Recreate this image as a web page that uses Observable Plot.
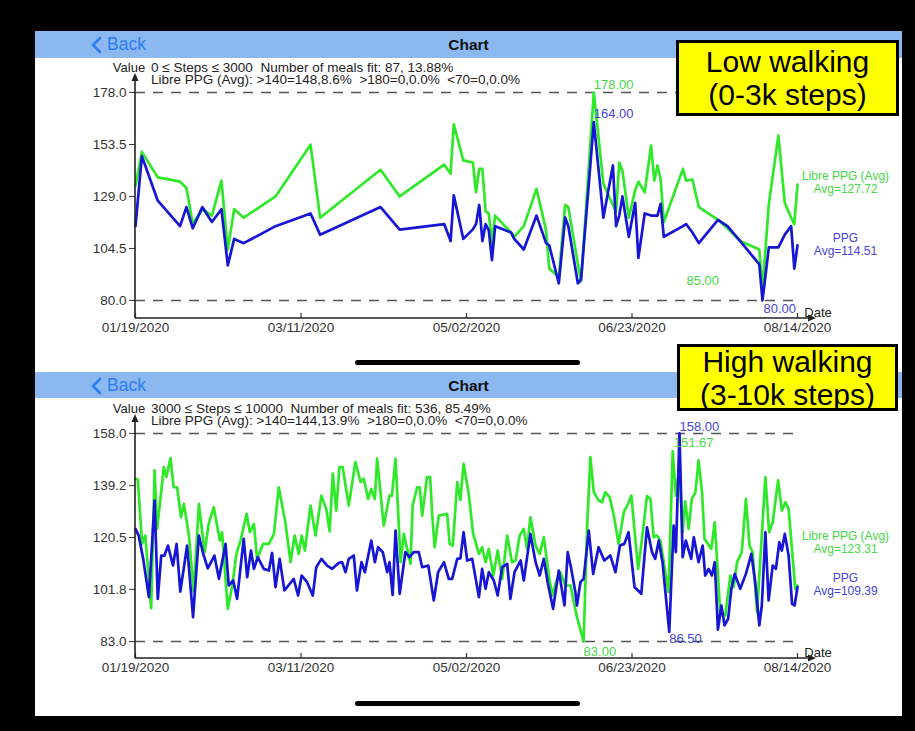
<!DOCTYPE html>
<html>
<head>
<meta charset="utf-8">
<script src="https://cdn.jsdelivr.net/npm/d3@7"></script>
<script src="https://cdn.jsdelivr.net/npm/@observablehq/plot@0.6"></script>
<style>
  body { margin:0; background:#000; width:915px; height:731px; overflow:hidden; font-family:"Liberation Sans", Arial, sans-serif; }
  #page { position:relative; width:915px; height:731px; background:#000; }
  .panel { position:absolute; left:35px; top:31px; width:867px; height:685px; background:#fff; }
  .hdr { position:absolute; left:35px; width:867px; background:#8ab8ef; }
  .back { position:absolute; left:55px; top:3px; color:#2d7cf6; font-size:17.5px; display:flex; align-items:center; gap:5px; }
  .ttl { position:absolute; left:0; width:100%; text-align:center; font-weight:bold; font-size:15.5px; top:5px; color:#111; }
  .info { position:absolute; left:151px; font-size:13.5px; line-height:12px; color:#222; white-space:pre; }
  .chart { position:absolute; left:35px; }
  .home { position:absolute; left:355px; width:225px; height:5px; border-radius:3px; background:#000; }
  .note { position:absolute; box-sizing:border-box; background:#ffff00; border:3px solid #000; display:flex; flex-direction:column; align-items:center; justify-content:center; font-size:30px; line-height:33px; color:#000; }
</style>
</head>
<body>
<div id="page">
  <div class="panel"></div>
  <div class="hdr" style="top:31px;height:27px;">
    <div class="back"><svg width="12" height="18"><polyline points="10,2 3,9 10,16" fill="none" stroke="#2d7cf6" stroke-width="2.6" stroke-linecap="round" stroke-linejoin="round"/></svg>Back</div>
    <div class="ttl">Chart</div>
  </div>
  <div class="hdr" style="top:372px;height:26px;">
    <div class="back"><svg width="12" height="18"><polyline points="10,2 3,9 10,16" fill="none" stroke="#2d7cf6" stroke-width="2.6" stroke-linecap="round" stroke-linejoin="round"/></svg>Back</div>
    <div class="ttl">Chart</div>
  </div>
  <div class="info" id="info1" style="top:62px;"></div>
  <div class="info" id="info2" style="top:403px;"></div>
  <div class="chart" id="c1" style="top:58px;"></div>
  <div class="chart" id="c2" style="top:398px;"></div>
  <div class="home" style="top:360px;"></div>
  <div class="home" style="top:701px;"></div>
  <div class="note" style="left:676px;top:40px;width:223px;height:76px;"><div>Low walking</div><div>(0-3k steps)</div></div>
  <div class="note" style="left:677px;top:344px;width:221px;height:67px;"><div>High walking</div><div>(3-10k steps)</div></div>
</div>
<script>
// ---------- DATA ----------
const startDate = "2020-01-19";           // day 0 of the day offsets below
const xTickDates = ["2020-01-19","2020-03-11","2020-05-02","2020-06-23","2020-08-14"];
const seriesNames = ["Libre PPG (Avg)", "PPG"];

// Low walking (0-3k steps)
const lowInfo = ["0 \u2264 Steps \u2264 3000  Number of meals fit: 87, 13.88%",
                 "Libre PPG (Avg): >140=148,8.6%  >180=0,0.0%  <70=0,0.0%"];
const lowYTicks = [80, 104.5, 129, 153.5, 178];
const lowAvg = [127.72, 114.51];
const lowDays = [0,2,7,14,16,18,21,24,27,29,31,34,44,55,58,77,83,97,99,100,103,106,107,108,109,110,111,112,113,118,119,122,126,129,130,133,135,136,139,140,144,147,150,151,152,153,155,157,158,160,162,163,164,165,166,172,173,175,177,183,186,190,196,197,199,202,204,206,207,208];
const lowLibre = [134,150,138,136,133,116,123,120,136.5,104,123,119,129,153.4,119,141.6,129,144,139.7,163,146,145,131,142,142,122,121,107,120,112,110,115,132.6,113,95,91,125,124,97,89,178,135,125,122,145,141,119,132,136,131,153,136.5,143.6,137,117,142,136.5,137,124,118,114,108,104,85,125.5,157.7,126,119,116,134.6];
const lowPPG = [115,148,127,115,124,114,124,117,123,96.5,109,107,115,121,111,124,113.4,116,108,129.5,109,113.5,116,125,108,116,113,99,115,112,109,104,120,107,106,88,119,115,88,90,164,119,143.6,115,120,129,110,126,100,121,120,120,120,125.5,110,115,116,112,107,118,115,108,97,80,105,105,111,115,95,106];

// High walking (3-10k steps)
const highInfo = ["3000 \u2264 Steps \u2264 10000  Number of meals fit: 536, 85.49%",
                  "Libre PPG (Avg): >140=144,13.9%  >180=0,0.0%  <70=0,0.0%"];
const highYTicks = [83, 101.8, 120.5, 139.2, 158];
const highAvg = [123.31, 109.39];
const highLibreDays = [0,0.7,2.1,3.1,4.9,6,6.8,8.9,9.7,11,12,13.1,14.3,15.2,16.8,18.3,19.9,21.7,23,24.6,26.5,27.2,29,30.4,31.7,33,34.9,35.9,37.2,38.2,40.1,41.9,43.5,45,47.1,48.7,50,51.3,52.2,53.2,55,56.6,58.4,59.9,61,62,63.1,64.1,65.1,67,69.1,70.7,71.7,73.1,74.1,75.2,75.9,78,79.8,80.6,81.7,83.3,84.3,86.4,87.1,88.5,89.3,90.1,91.6,92.6,93.2,94,95.3,97.9,98.7,99.7,101.1,102.1,103.1,104.7,106.1,107.9,108.9,110,111,112.4,113.8,115.2,116.8,118.3,119.4,120.7,122,123,124.1,125.7,127,128.3,129.8,130.9,132.5,133.5,135.1,136.7,137.7,138.7,140.8,141.9,142.9,144,145.6,146.6,147.6,149,150.3,151.8,153.4,155,155.8,157.9,159.1,160.7,161.8,162.8,163.8,164.9,166.5,167.5,168.8,169.8,170.9,171.9,172.7,173.8,174.8,175.9,176.9,178,178.8,180.9,182,183.7,185.3,186.9,187.9,189,190.5,191.8,192.9,193.9,195.3,197.9,199.1,200.2,201.9,203.1,204.2,205.2,207.3,208];
const highLibre = [141.7,141.4,118.2,121.2,95,144.7,123.6,145.9,142.3,149.1,138.6,138.6,127.8,132.6,121.2,100.8,132.6,115.2,125.4,131.4,119.4,122.4,94.8,103.2,114.6,119.4,129,122.4,125.4,112.8,118.2,118.2,121.8,138.6,126,111.6,121.2,114.6,121.2,115.8,132,121.2,135.6,130.8,122.7,143.5,130.2,145.9,145.9,132,147.7,140.5,141.7,134.4,138,134.4,148.9,124.8,135.6,135.6,148.9,111.6,121.8,111,132,138.6,138.6,128.4,142.3,142.3,129,117,128.4,129,118.2,117.6,140.5,134,147,136.2,121.8,114.6,117,111.6,116.4,106.8,115.8,105.6,121.2,111.6,112.2,121.2,123.6,116.4,127.8,117.6,114.6,120.6,107.4,99.6,105.6,108,103.2,103.2,97.2,91.8,83,124.8,149.5,136.8,133.8,133.2,136.8,135,128.4,118.2,129.6,133.2,135.6,109.2,119.4,135.4,134.4,120.6,121.2,119.4,108,100.8,151.67,135.6,145.3,122.4,133.5,123.6,134.4,136.8,148.3,136.8,120,116.4,126,93.6,92.4,106.8,102.6,111.6,115.2,134.4,117.6,115.2,93.6,142.3,122.4,126,141.1,130.2,133.2,130.8,102,103.2];
const highPPGDays = [0,1,2.4,4.2,6,7,8.1,9.1,10.2,11.8,12.9,14.1,16.2,18.1,19.9,21.3,22.7,24.8,26.2,28.3,29.3,30.7,31.9,34,35.1,36.3,37.2,38.4,40.3,41.9,42.9,44,45.3,46.8,49.7,51.1,52.2,53.9,55.7,56.8,58.4,60.2,61.8,63.9,64.9,66,67,68.6,69.6,71,72.1,74.1,75.2,76.2,77.7,79.1,79.8,80.8,81.7,83,84.8,86.1,87.4,89,90.1,92,93.7,95.1,96.9,98.4,99.5,101.1,102.1,103.1,104.2,105.8,107.9,108.9,110,111,112.6,113.8,115.2,116.8,117.8,119.1,121,122,124.1,125.7,127,128.3,129.5,131.2,133,134.8,135.8,136.9,138.2,138.7,139.8,140.8,142.4,143.8,145.5,147.3,149.2,150.8,152.2,153.6,154.9,156.8,157.9,158.9,160.7,162.3,163.3,164.4,165.6,167.7,169.1,169.8,170.9,171.9,172.9,174.6,175.4,176.9,178.2,179,180.1,181.1,182,183,184.1,185.1,186.2,187.2,188.3,190,191.8,193.5,194.7,196,196.8,197.9,198.9,200.2,201.2,202.3,203.1,204,205.2,206.3,207.1,208];
const highPPG = [123.6,121.2,112.8,99,133.8,98.4,114,114,117.6,110.4,118.2,101,117.6,91.8,121.2,114.6,109.4,114,105.6,118.2,103.2,105,98.4,120,106.2,115.8,109.2,113.4,109.2,108.6,115,102.6,112.8,101.4,105.6,99.6,106.8,104.4,99.6,109.8,112.8,110.4,109.2,111.4,111.6,108,112.8,114,101.4,111.6,108,119.4,111.6,117,115.2,108,111.6,99.8,123,100.2,115.2,113.4,115.2,115.2,109.8,110.4,97.8,108,111.6,105.6,105.6,112.8,113,122.4,112.2,112.8,99,109.2,102,108,105,99.6,109.8,111,98.4,108,112.2,105,121.8,111.6,106.8,112.8,104.4,94.8,108.6,96,115.2,109.2,100.8,96,104.4,105.6,123,107.4,117,112.2,114,108,117.6,118.2,122.4,102.6,101.4,100.2,124.2,115.2,112.8,119.4,111.6,86.5,124.8,115.2,158,113.4,119.4,112.8,120.6,111.6,117.6,106.8,109.2,106.8,111.6,87.3,96,88.8,91.2,102,107.4,102,107.4,114.6,104.4,88.8,96,122.4,97.8,110.4,109.2,118.8,115.8,121.8,114,96.6,96,102.6];

// ---------- DRAWING ----------
const GREEN = "#2fe82a", BLUE = "#1616d4", GREEN_TXT = "#47d947", BLUE_TXT = "#4545d6";
const parse = d3.utcParse("%Y-%m-%d");
const day0 = parse(startDate).getTime();
const toDate = d => new Date(day0 + Math.round(d * 24) * 3600000);
const fmt = d3.utcFormat("%m/%d/%Y");
const ticks = xTickDates.map(parse);

function build(cfg) {
  const g = cfg.gDays.map((d, i) => ({date: toDate(d), v: cfg.gVals[i]}));
  const b = cfg.bDays.map((d, i) => ({date: toDate(d), v: cfg.bVals[i]}));
  const gMax = d3.greatest(g, d => d.v), gMin = d3.least(g, d => d.v);
  const bMax = d3.greatest(b, d => d.v), bMin = d3.least(b, d => d.v);
  const lo = d3.min(cfg.yTicks), hi = d3.max(cfg.yTicks);
  const xEnd = ticks[ticks.length - 1];
  const plotH = cfg.height - cfg.mt - cfg.mb;
  const ann = (pt, col, o) => Plot.text([pt], {x: "date", y: "v", text: d => d.v.toFixed(2), fill: col, fontSize: 13, textAnchor: "start", dx: o[0], dy: o[1]});
  const chart = Plot.plot({
    width: 870, height: cfg.height,
    marginLeft: 100, marginRight: 108, marginTop: cfg.mt, marginBottom: cfg.mb,
    style: {fontFamily: "Liberation Sans, Arial, sans-serif", fontSize: "13px", color: "#333", background: "none", overflow: "visible"},
    x: {type: "utc", domain: [ticks[0], xEnd]},
    y: {domain: cfg.ydom},
    marks: [
      Plot.ruleY([lo, hi], {stroke: "#555", strokeWidth: 1.6, strokeDasharray: "10,8"}),
      Plot.axisY({ticks: cfg.yTicks, tickSize: 6, tickPadding: 3, tickFormat: d => d.toFixed(1), label: null, fontSize: 13.5, stroke: "#333", fill: "#333"}),
      Plot.axisX({ticks: ticks, tickSize: 0, tickPadding: 4, tickFormat: fmt, label: null, fontSize: 13.5, fill: "#333"}),
      Plot.tickX(ticks, {x: d => d, insetTop: plotH - 5, stroke: "#333", strokeWidth: 1.2}),
      Plot.line(g, {x: "date", y: "v", stroke: GREEN, strokeWidth: 2.7}),
      Plot.line(b, {x: "date", y: "v", stroke: BLUE, strokeWidth: 2.7}),
      ann(gMax, GREEN_TXT, cfg.o.gMax), ann(bMax, BLUE_TXT, cfg.o.bMax),
      ann(gMin, GREEN_TXT, cfg.o.gMin), ann(bMin, BLUE_TXT, cfg.o.bMin),
      Plot.text([{date: xEnd, v: cfg.avg[0]}], {x: "date", y: "v", text: d => `${seriesNames[0]}\nAvg=${d.v.toFixed(2)}`, fill: GREEN_TXT, fontSize: 12, lineHeight: 1.05, dx: 48, dy: cfg.o.gLeg}),
      Plot.text([{date: xEnd, v: cfg.avg[1]}], {x: "date", y: "v", text: d => `${seriesNames[1]}\nAvg=${d.v.toFixed(2)}`, fill: BLUE_TXT, fontSize: 12, lineHeight: 1.05, dx: 48, dy: cfg.o.bLeg})
    ]
  });
  // axis lines with arrows, using the chart's own scales
  const xs = chart.scale("x"), ys = chart.scale("y");
  const x0 = xs.apply(ticks[0]), x1 = xs.apply(xEnd);
  const yb = ys.apply(cfg.ydom[0]), yt = ys.apply(cfg.ydom[1]);
  const s = d3.select(chart);
  const ax = s.append("g").attr("fill", "#222").attr("stroke", "#222");
  ax.append("line").attr("x1", x0).attr("x2", x1 + 12).attr("y1", yb).attr("y2", yb).attr("stroke-width", 1.6);
  ax.append("path").attr("d", `M${x1 + 19},${yb}L${x1 + 11},${yb - 3.5}L${x1 + 11},${yb + 3.5}Z`).attr("stroke", "none");
  ax.append("line").attr("x1", x0).attr("x2", x0).attr("y1", yb).attr("y2", yt + 5).attr("stroke-width", 1.6);
  ax.append("path").attr("d", `M${x0},${yt - 2}L${x0 - 3.5},${yt + 6}L${x0 + 3.5},${yt + 6}Z`).attr("stroke", "none");
  s.append("text").attr("x", x1 + 21).attr("y", yb - 6).attr("dy", "0.35em").attr("font-size", 13).attr("fill", "#222").text("Date");
  s.append("text").attr("x", x0 - 6).attr("y", yt - 3).attr("text-anchor", "middle").attr("font-size", 13).attr("fill", "#222").text("Value");
  return chart;
}

document.getElementById("info1").textContent = lowInfo.join("\n");
document.getElementById("info2").textContent = highInfo.join("\n");

document.getElementById("c1").append(build({
  gDays: lowDays, gVals: lowLibre, bDays: lowDays, bVals: lowPPG,
  yTicks: lowYTicks, avg: lowAvg, ydom: [71.5, 186], height: 290, mt: 17, mb: 30,
  o: {gMax: [0, -8], bMax: [0, -8], gMin: [-76, -9], bMin: [1, 8], gLeg: -17, bLeg: 17}
}));
document.getElementById("c2").append(build({
  gDays: highLibreDays, gVals: highLibre, bDays: highPPGDays, bVals: highPPG,
  yTicks: highYTicks, avg: highAvg, ydom: [76.9, 164.1], height: 292, mt: 18, mb: 32,
  o: {gMax: [1, -8], bMax: [0, -7], gMin: [0, 10], bMin: [0, 7], gLeg: 13, bLeg: 16}
}));
</script>
</body>
</html>
